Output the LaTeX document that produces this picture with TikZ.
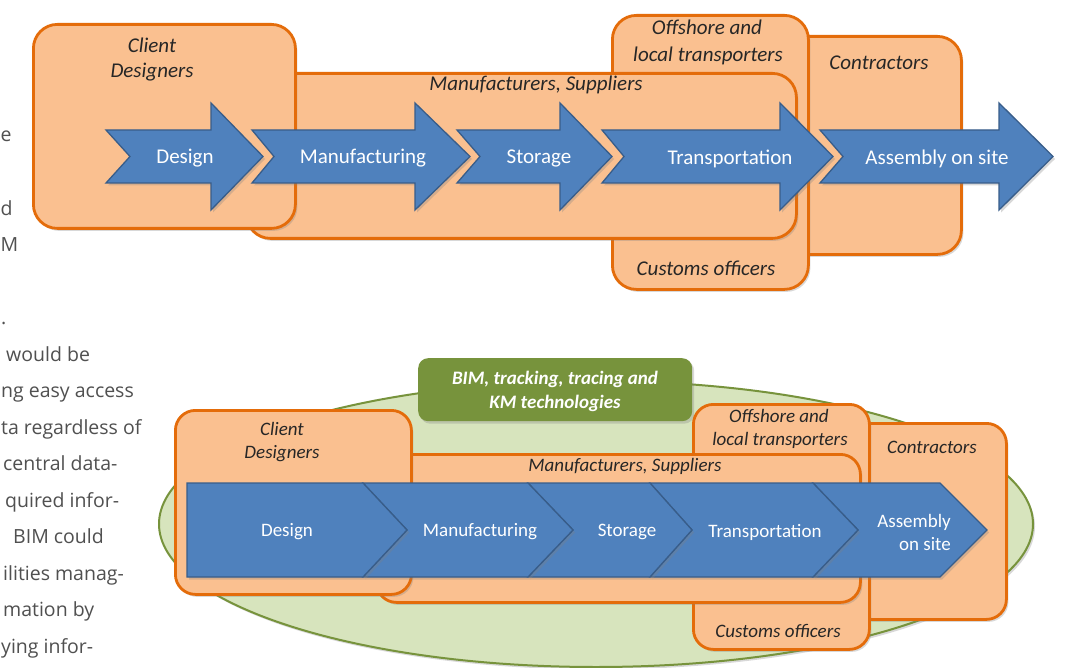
\documentclass[tikz,border=0pt]{standalone}
\usepackage{fontspec}
\setmainfont{Carlito}
\newfontfamily\parafont{Open Sans}
\usetikzlibrary{shadows,shapes.geometric}
\definecolor{orF}{HTML}{FAC090}
\definecolor{orB}{HTML}{E46C0A}
\definecolor{blF}{HTML}{4F81BD}
\definecolor{blB}{HTML}{385D8A}
\definecolor{grF}{HTML}{D7E4BD}
\definecolor{grB}{HTML}{77933C}
\definecolor{txt}{HTML}{262626}
\definecolor{para}{HTML}{505050}
\newcommand\toparrow[4]{%
  \path[arr] (#1,130) -- (#3,130) -- (#3,103) -- (#4,156.5) -- (#3,210) -- (#3,183) -- (#1,183) -- (#2,156.5) -- cycle;}
\newcommand\mychev[4]{%
  \path[arr] (#1,483) -- (#3,483) -- (#4,530) -- (#3,577) -- (#1,577) -- (#2,530) -- cycle;}
\begin{document}
\begin{tikzpicture}[x=1pt,y=-1pt,
  shd/.style={drop shadow={shadow xshift=2pt,shadow yshift=-2.5pt,opacity=.3}},
  obox/.style={shd, draw=orB, fill=orF, line width=2.8pt, rounded corners=24pt, anchor=north west, inner sep=0pt},
  obox2/.style={obox, rounded corners=20pt},
  arr/.style={shd, draw=blB, fill=blF, line width=1.3pt, line join=miter},
  lbl/.style={anchor=base, inner sep=0pt, font=\fontsize{21}{25}\selectfont\itshape, text=txt},
  lbl2/.style={lbl, font=\fontsize{19}{23}\selectfont\itshape},
  albl/.style={anchor=base, inner sep=0pt, font=\fontsize{21}{25}\selectfont, text=white},
  albl2/.style={albl, font=\fontsize{19}{23}\selectfont},
  glbl/.style={anchor=base, inner sep=0pt, font=\fontsize{19}{23}\selectfont\bfseries\itshape, text=white},
  ptxt/.style={anchor=base west, inner sep=0pt, font=\parafont\fontsize{19.5}{24}\selectfont, text=para},
]
\useasboundingbox (0,0) rectangle (1075,668);
\fill[white] (0,0) rectangle (1075,668);

% ---------- paragraph fragments on the left ----------
\node[ptxt] (p1) at (0.5,142) {e};
\node[ptxt] (p2) at (0.5,215) {d};
\node[ptxt] (p3) at (0.5,251.5) {M};
\node[ptxt] (p4) at (1,324.5) {.};
\node[ptxt] (p5) at (6,361) {would be};
\node[ptxt] (p6) at (1,397.5) {ng easy access};
\node[ptxt] (p7) at (1,434) {ta regardless of};
\node[ptxt] (p8) at (3,470.5) {central data-};
\node[ptxt] (p9) at (5,507) {quired infor-};
\node[ptxt] (p10) at (13,543.5) {BIM could};
\node[ptxt] (p11) at (3,580) {ilities manag-};
\node[ptxt] (p12) at (3,616.5) {mation by};
\node[ptxt] (p13) at (1,653) {ying infor-};

% ---------- top diagram ----------
\node[obox, minimum width=180pt, minimum height=218pt] (ct1) at (780,35) {};
\node[obox, minimum width=196pt, minimum height=274pt] (of1) at (611,14) {};
\node[obox, minimum width=550pt, minimum height=165pt] (mf1) at (245,72) {};
\node[obox, minimum width=262pt, minimum height=204pt] (cl1) at (32,23) {};

\node[lbl] (tclient) at (152,53) {Client};
\node[lbl] (tdesigners) at (152,78) {Designers};
\node[lbl] (tmanuf) at (536,91) {Manufacturers, Suppliers};
\node[lbl] (toffshore) at (707,35) {Offshore and};
\node[lbl] (tlocal) at (708,62) {local transporters};
\node[lbl] (tcontr) at (879,70) {Contractors};
\node[lbl] (tcustoms) at (706,275) {Customs officers};

\toparrow{820}{843}{999}{1053}
\toparrow{602}{624}{780}{833}
\toparrow{457}{480}{560}{612}
\toparrow{252}{274}{415}{470}
\toparrow{106}{130}{211}{263}

\node[albl] (adesign) at (185,164) {Design};
\node[albl] (amanuf) at (363,164) {Manufacturing};
\node[albl] (astorage) at (539,164) {Storage};
\node[albl] (atransp) at (730,165) {Transportation};
\node[albl] (aassembly) at (937,165) {Assembly on site};

% ---------- bottom diagram ----------
\node[shd, ellipse, draw=grB, fill=grF, line width=2pt, minimum width=874pt, minimum height=286pt, inner sep=0pt] (ell) at (596,524) {};
\node[shd, fill=grB, rounded corners=10pt, minimum width=274pt, minimum height=63pt, anchor=north west, inner sep=0pt] (bim) at (418,358) {};
\node[glbl] (bim1) at (555,384) {BIM, tracking, tracing and};
\node[glbl] (bim2) at (555,408) {KM technologies};

\node[obox2, minimum width=155pt, minimum height=196pt] (ct2) at (850,422) {};
\node[obox2, minimum width=176pt, minimum height=245pt] (of2) at (692,403) {};
\node[obox2, minimum width=484pt, minimum height=148pt] (mf2) at (375,453) {};
\node[obox2, minimum width=236pt, minimum height=184pt] (cl2) at (174,409) {};

\node[lbl2] (bclient) at (282,435) {Client};
\node[lbl2] (bdesigners) at (282,458) {Designers};
\node[lbl2] (bmanuf) at (625,471) {Manufacturers, Suppliers};
\node[lbl2] (boffshore) at (779,422) {Offshore and};
\node[lbl2] (blocal) at (780,445) {local transporters};
\node[lbl2] (bcontr) at (932,453) {Contractors};
\node[lbl2] (bcustoms) at (778,637) {Customs officers};

\mychev{813}{858}{940}{987}
\mychev{650}{692}{813}{858}
\mychev{528}{573}{650}{692}
\mychev{363}{407}{528}{573}
\mychev{187}{187}{363}{407}

\node[albl2] (cdesign) at (287,536) {Design};
\node[albl2] (cmanuf) at (480,536) {Manufacturing};
\node[albl2] (cstorage) at (627,536) {Storage};
\node[albl2] (ctransp) at (765,537) {Transportation};
\node[albl2, anchor=base east] (cassembly1) at (951,527) {Assembly};
\node[albl2, anchor=base east] (cassembly2) at (951,550) {on site};
\end{tikzpicture}
\end{document}
